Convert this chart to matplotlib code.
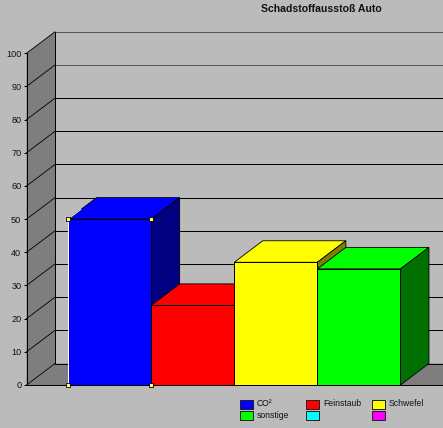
import matplotlib
matplotlib.use("Agg")
import matplotlib.pyplot as plt
from matplotlib.patches import Polygon, Rectangle
from matplotlib.transforms import IdentityTransform

title = "Schadstoffausstoß Auto"
series = ["CO²", "Feinstaub", "Schwefel", "sonstige"]
values = [50, 24, 37, 35]
front_colors = ["#0000FF", "#FF0000", "#FFFF00", "#00FF00"]
side_colors = ["#000080", "#800000", "#808000", "#007000"]
legend_labels = ["CO²", "Feinstaub", "Schwefel", "sonstige", "", ""]
legend_colors = ["#0000FF", "#FF0000", "#FFFF00", "#00FF00", "#00FFFF", "#FF00FF"]
yticks = list(range(0, 101, 10))

W, H = 443, 428
BG = "#BBBBBB"
WALL = "#7E7E7E"
DX, DY = 28.5, 21.5
PX = 0.72  # one pixel, in points

plt.rcParams["font.family"] = ["Liberation Sans", "DejaVu Sans"]
fig = plt.figure(figsize=(W / 100, H / 100), dpi=100, facecolor=BG)
ax = fig.add_axes([26.5 / W, (H - 385.0) / H, (W - 26.5) / W, 331.7 / H])
XL, XR = -1.0, 4.012
ax.set_xlim(XL, XR)
ax.set_ylim(0, 100)
ax.patch.set_alpha(0)
for s in ["top", "right"]:
    ax.spines[s].set_visible(False)
for s in ["left", "bottom"]:
    ax.spines[s].set_linewidth(PX)
    ax.spines[s].set_zorder(20)
ax.set_xticks([])
ax.set_yticks(yticks)
ax.tick_params(axis="y", length=2.2, width=PX, pad=1.5, labelsize=6.6, color="black", labelcolor="#111111")


def P(x, y, d=0):
    px = ax.transData.transform((x, y))
    return (px[0] + d * DX, px[1] + d * DY)


def face(pts, fc, ec="black", lw=PX, z=2):
    ax.add_patch(Polygon([P(*p) for p in pts], closed=True, facecolor=fc, edgecolor=ec,
                         linewidth=lw, transform=IdentityTransform(), zorder=z, clip_on=False,
                         joinstyle="miter"))


def line(a, b, color="black", lw=PX, z=3):
    pa, pb = P(*a), P(*b)
    ax.add_line(plt.Line2D([pa[0], pb[0]], [pa[1], pb[1]], color=color, linewidth=lw,
                           transform=IdentityTransform(), zorder=z, clip_on=False))


# left wall and floor
face([(XL, 0, 0), (XL, 0, 1), (XL, 100, 1), (XL, 100, 0)], WALL, ec="none", z=1)
face([(XL, 0, 0), (XL, 0, 1), (XR, 0, 1), (XR, 0, 0)], WALL, ec="none", z=1)
line((XL, 0, 1), (XR, 0, 1), z=1.5)
# grid on the back wall and left wall
for v in yticks[1:]:
    col = "#555555" if v >= 90 else "black"
    line((XL, v, 1), (XR, v, 1), color=col, z=1.5)
    line((XL, v, 0), (XL, v, 1), lw=0.6, z=1.5)
line((XL, 0, 0), (XL, 0, 1), lw=0.6, z=1.5)
line((XL, 0, 1), (XL, 100, 1), z=1.5)

# bars: drawn left to right so each covers the side of the one before it
for i, (v, fc, sc) in enumerate(zip(values, front_colors, side_colors)):
    x0, x1 = i - 0.5, i + 0.5
    z = 5 + i
    face([(x0, v, 0), (x1, v, 0), (x1, v, 1), (x0, v, 1)], fc, lw=0.6, z=z)
    face([(x1, 0, 0), (x1, 0, 1), (x1, v, 1), (x1, v, 0)], sc, lw=0.6, z=z)
    face([(x0, 0, 0), (x1, 0, 0), (x1, v, 0), (x0, v, 0)], fc, z=z + 0.1)

# white highlight on the selected series, and its handles
line((-0.5, 0, 0), (-0.5, values[0], 0), color="white", lw=PX, z=12)
line((-0.5, values[0], 0), (-0.5, values[0], 0.45), color="#EEEEAA", lw=PX, z=12)
hx = [-0.5, 0.5, -0.5, 0.5]
hy = [values[0], values[0], 0, 0]
ax.plot(hx, hy, ls="none", marker="s", ms=2.8, mfc="#FFFF66", mec="black", mew=0.6, zorder=21, clip_on=False)

# title
fig.text(321 / W, 1 - 9 / H, title, ha="center", va="center", fontsize=7.55, fontweight="bold", color="#111111")

# legend
cols = [240, 306, 372]
rows = [399.5, 411]
for k, (lab, col) in enumerate(zip(legend_labels, legend_colors)):
    lx, ly = cols[k % 3], rows[k // 3]
    fig.add_artist(Rectangle((lx / W, 1 - (ly + 9) / H), 13 / W, 9 / H, transform=fig.transFigure,
                             facecolor=col, edgecolor="#222222", linewidth=PX))
    if lab:
        fig.text((lx + 17) / W, 1 - (ly + 4.5) / H, lab, ha="left", va="center", fontsize=6.2, color="#111111")

fig.savefig("out.png", dpi=100, facecolor=BG)
